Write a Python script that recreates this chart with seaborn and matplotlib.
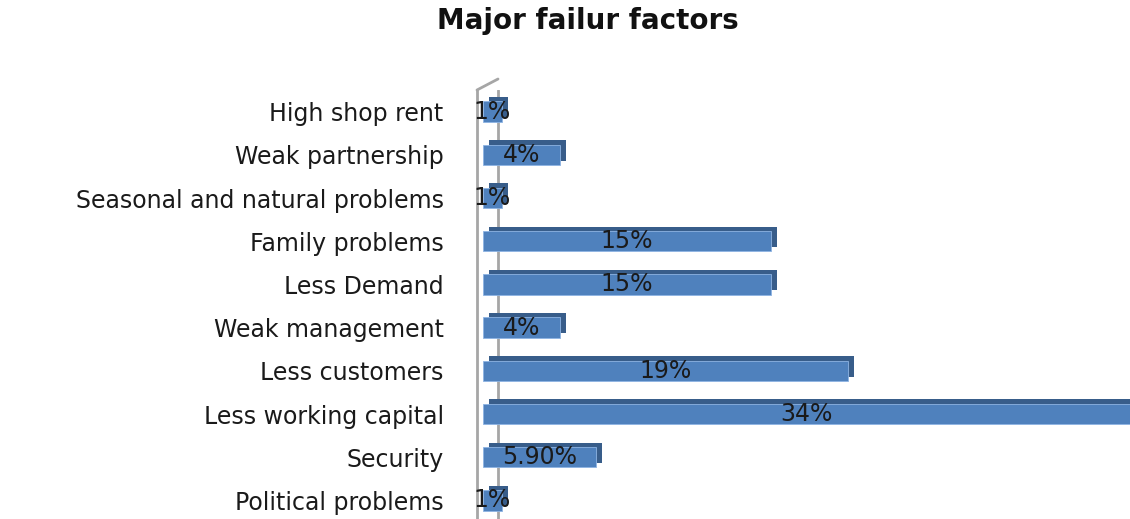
import pandas as pd
import seaborn as sns
import matplotlib.pyplot as plt
import matplotlib.patheffects as pe

# Chart data (top to bottom):
factors = ['High shop rent', 'Weak partnership', 'Seasonal and natural problems',
           'Family problems', 'Less Demand', 'Weak management', 'Less customers',
           'Less working capital', 'Security', 'Political problems']
percent = [1, 4, 1, 15, 15, 4, 19, 34, 5.9, 1]
value_labels = ['1%', '4%', '1%', '15%', '15%', '4%', '19%', '34%', '5.90%', '1%']

df = pd.DataFrame({'factor': factors, 'percent': percent})

sns.set_style('white')
plt.rcParams['font.family'] = ['DejaVu Sans']

fig = plt.figure(figsize=(11.3, 5.19), dpi=100)
ax = fig.add_axes([477 / 1130, 0, 653 / 1130, (519 - 90) / 519])

# 3D-ish back wall
ax.axvline(0.78, color='#a6a6a6', lw=2, zorder=0)
ax.plot([0, 21 / 653], [1, 1 + 11 / 429], color='#a6a6a6', lw=2,
        transform=ax.transAxes, clip_on=False)

sns.barplot(data=df, x='percent', y='factor', color='#4f81bd', saturation=1,
            width=0.47, ax=ax, zorder=2)

for bar in ax.patches:
    bar.set_path_effects([pe.SimplePatchShadow(offset=(4.5, 3.2), shadow_rgbFace='#385d8a', alpha=1),
                          pe.Normal()])
    bar.set_edgecolor('#8eb4e3')
    bar.set_linewidth(0.6)

ax.bar_label(ax.containers[0], labels=value_labels, label_type='center',
             fontsize=17, color='#1a1a1a')

ax.set_xlim(-0.31, 33.7)
ax.set_ylim(9.43, -0.5)
ax.set_xticks([])
ax.set_xlabel('')
ax.set_ylabel('')
ax.tick_params(axis='y', length=0, pad=24, labelsize=17, labelcolor='#1a1a1a')
for side in ['top', 'right', 'bottom']:
    ax.spines[side].set_visible(False)
ax.spines['left'].set_color('#a6a6a6')
ax.spines['left'].set_linewidth(2)

fig.text(0.52, 0.96, 'Major failur factors', ha='center', va='center',
         fontsize=20, fontweight='bold', color='#111111')

fig.savefig('out.png', dpi=100)
